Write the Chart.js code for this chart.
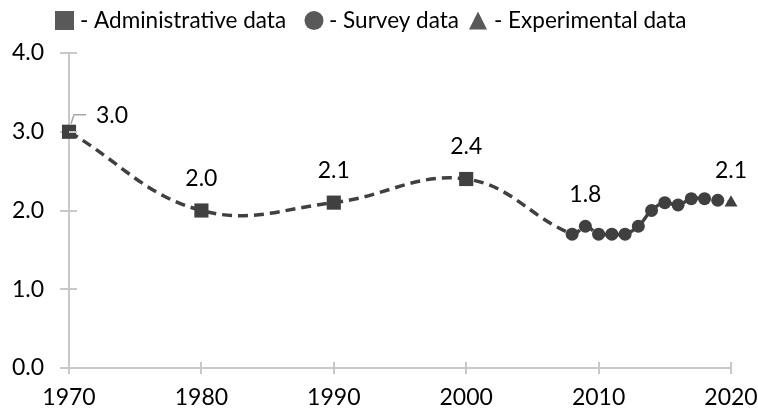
<!DOCTYPE html>
<html>
<head>
<meta charset="utf-8">
<script src="https://cdn.jsdelivr.net/npm/chart.js@4.4.1/dist/chart.umd.min.js"></script>
<style>
  html, body { margin: 0; padding: 0; background: #ffffff; }
  #wrap { width: 758px; height: 415px; position: relative; }
</style>
</head>
<body>
<div id="wrap"><canvas id="chart" width="758" height="415"></canvas></div>
<script>
// Administrative records (square markers)
const adminYears = [1970, 1980, 1990, 2000];
const adminValues = [3.0, 2.0, 2.1, 2.4];

// Survey estimates (circle markers)
const surveyYears = [2008, 2009, 2010, 2011, 2012, 2013, 2014, 2015, 2016, 2017, 2018, 2019];
const surveyValues = [1.70, 1.80, 1.70, 1.70, 1.70, 1.80, 2.00, 2.10, 2.07, 2.15, 2.15, 2.13];

// Experimental estimate (triangle marker)
const experimentalYears = [2020];
const experimentalValues = [2.1];

// Years whose value is printed above the marker
const labelledYears = [1970, 1980, 1990, 2000, 2009, 2020];

// Axis ticks
const xTicks = [1970, 1980, 1990, 2000, 2010, 2020];
const yTicks = [0, 1, 2, 3, 4];

// Legend entries
const legendNames = ['- Administrative data', '- Survey data', '- Experimental data'];

const FONT = 'Lato, "Open Sans", sans-serif';
const MARK = '#404040';
const LEGEND_MARK = '#595959';
const AXIS = '#c8c8c8';

const toPoints = (xs, ys) => xs.map((x, i) => ({ x: x, y: ys[i] }));
const adminPts = toPoints(adminYears, adminValues);
const surveyPts = toPoints(surveyYears, surveyValues);
const expPts = toPoints(experimentalYears, experimentalValues);
const allPts = adminPts.concat(surveyPts, expPts);

function valueAt(year) {
  const p = allPts.find(q => q.x === year);
  return p ? p.y : null;
}

// Ticks that cross the axis line (inner half drawn here)
const crossTicks = {
  id: 'crossTicks',
  afterDraw(chart) {
    const { ctx, chartArea, scales } = chart;
    ctx.save();
    ctx.strokeStyle = AXIS;
    ctx.lineWidth = 2;
    ctx.beginPath();
    xTicks.forEach(v => {
      const px = Math.round(scales.x.getPixelForValue(v));
      ctx.moveTo(px, chartArea.bottom);
      ctx.lineTo(px, chartArea.bottom - 6);
    });
    yTicks.forEach(v => {
      const py = Math.round(scales.y.getPixelForValue(v));
      ctx.moveTo(chartArea.left, py);
      ctx.lineTo(chartArea.left + 8, py);
    });
    ctx.stroke();
    ctx.restore();
  }
};

// Value labels above selected markers
const valueLabels = {
  id: 'valueLabels',
  afterDatasetsDraw(chart) {
    const { ctx, scales } = chart;
    ctx.save();
    ctx.font = '23px ' + FONT;
    ctx.fillStyle = '#000000';
    ctx.textAlign = 'center';
    ctx.textBaseline = 'middle';
    labelledYears.forEach(year => {
      const v = valueAt(year);
      const px = scales.x.getPixelForValue(year);
      const py = scales.y.getPixelForValue(v);
      const text = v.toFixed(1);
      if (year === adminYears[0]) {
        // first label sits to the right with a leader line
        ctx.strokeStyle = '#a6a6a6';
        ctx.lineWidth = 1.5;
        ctx.beginPath();
        ctx.moveTo(px + 2, py - 8);
        ctx.lineTo(px + 5, py - 17);
        ctx.lineTo(px + 17, py - 17);
        ctx.stroke();
        ctx.fillText(text, px + 43, py - 16);
      } else {
        ctx.fillText(text, px, py - 32);
      }
    });
    ctx.restore();
  }
};

// Legend row at the top
const topLegend = {
  id: 'topLegend',
  afterDraw(chart) {
    const { ctx } = chart;
    ctx.save();
    ctx.fillStyle = LEGEND_MARK;
    // square
    ctx.fillRect(55, 11, 19, 19);
    // circle
    ctx.beginPath();
    ctx.arc(314, 20.5, 9.5, 0, Math.PI * 2);
    ctx.fill();
    // triangle
    ctx.beginPath();
    ctx.moveTo(478, 11.5);
    ctx.lineTo(487, 29.5);
    ctx.lineTo(469, 29.5);
    ctx.closePath();
    ctx.fill();
    ctx.fillStyle = '#000000';
    ctx.font = '22.5px ' + FONT;
    ctx.textAlign = 'left';
    ctx.textBaseline = 'middle';
    ctx.fillText(legendNames[0], 80, 21);
    ctx.fillText(legendNames[1], 329, 21);
    ctx.fillText(legendNames[2], 494, 21);
    ctx.restore();
  }
};

new Chart(document.getElementById('chart'), {
  type: 'scatter',
  data: {
    datasets: [
      {
        label: 'Administrative data',
        data: adminPts,
        pointStyle: 'rect',
        pointRadius: 10,
        pointHoverRadius: 10,
        backgroundColor: MARK,
        borderColor: MARK,
        borderWidth: 0,
        showLine: false,
        clip: false
      },
      {
        label: 'Survey data',
        data: surveyPts,
        pointStyle: 'circle',
        pointRadius: 6.5,
        pointHoverRadius: 6.5,
        backgroundColor: MARK,
        borderColor: MARK,
        borderWidth: 0,
        showLine: false,
        clip: false
      },
      {
        label: 'Experimental data',
        data: expPts,
        pointStyle: 'triangle',
        pointRadius: 7.5,
        pointHoverRadius: 7.5,
        backgroundColor: MARK,
        borderColor: MARK,
        borderWidth: 0,
        showLine: false,
        clip: false
      },
      {
        label: 'Trend',
        data: allPts,
        showLine: true,
        borderColor: MARK,
        borderWidth: 3.5,
        borderDash: [10, 6],
        tension: 0.4,
        pointRadius: 0,
        pointHoverRadius: 0,
        fill: false,
        clip: false
      }
    ]
  },
  options: {
    responsive: false,
    animation: false,
    events: [],
    layout: { padding: { top: 53, right: 27, left: 0, bottom: 0 } },
    plugins: {
      legend: { display: false },
      tooltip: { enabled: false }
    },
    scales: {
      x: {
        type: 'linear',
        min: 1970,
        max: 2020,
        afterFit(scale) {
          scale.height = 47;
          scale.paddingLeft = 0;
          scale.paddingRight = 0;
        },
        afterBuildTicks(scale) { scale.ticks = xTicks.map(v => ({ value: v })); },
        ticks: {
          color: '#000000',
          font: { family: FONT, size: 23 },
          padding: 10,
          maxRotation: 0,
          callback: v => String(v)
        },
        grid: { drawOnChartArea: false, drawTicks: true, tickLength: 6, color: AXIS, lineWidth: 2 },
        border: { color: AXIS, width: 2 }
      },
      y: {
        min: 0,
        max: 4,
        afterFit(scale) {
          scale.width = 69;
          scale.paddingTop = 0;
          scale.paddingBottom = 0;
        },
        afterBuildTicks(scale) { scale.ticks = yTicks.map(v => ({ value: v })); },
        ticks: {
          color: '#000000',
          font: { family: FONT, size: 23 },
          padding: 16,
          callback: v => Number(v).toFixed(1)
        },
        grid: { drawOnChartArea: false, drawTicks: true, tickLength: 9, color: AXIS, lineWidth: 2 },
        border: { color: AXIS, width: 2 }
      }
    }
  },
  plugins: [crossTicks, valueLabels, topLegend]
});
</script>
</body>
</html>
